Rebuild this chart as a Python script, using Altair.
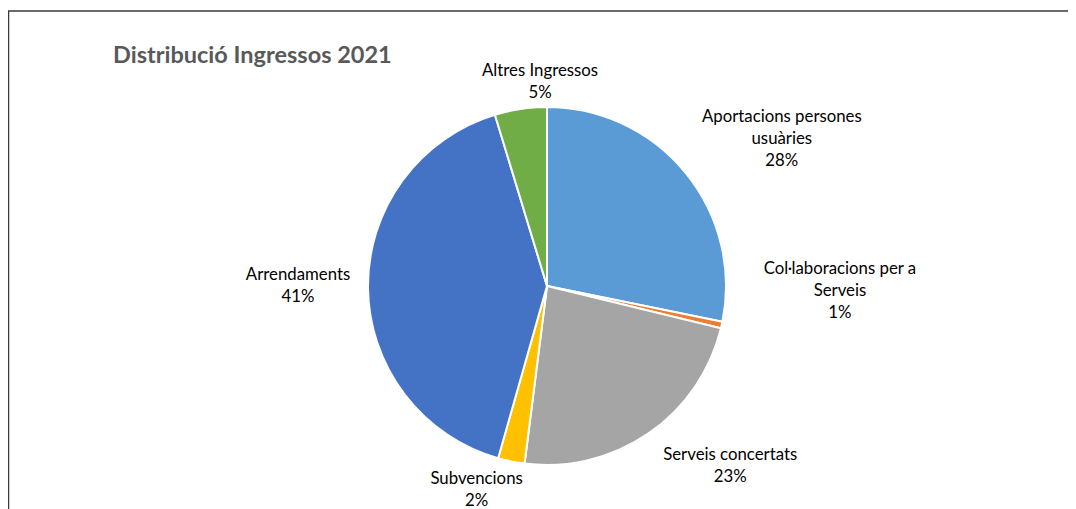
import altair as alt
import pandas as pd

# ---- data ----
categories = ["Aportacions persones usuàries", "Col·laboracions per a Serveis",
              "Serveis concertats", "Subvencions", "Arrendaments", "Altres Ingressos"]
values = [28.2, 0.6, 23.2, 2.4, 40.9, 4.7]
label_lines = ["Aportacions persones|usuàries", "Col·laboracions per a|Serveis",
               "Serveis concertats", "Subvencions", "Arrendaments", "Altres Ingressos"]
colors = ["#5B9BD5", "#ED7D31", "#A5A5A5", "#FFC000", "#4472C4", "#70AD47"]
title_text = "Distribució Ingressos 2021"

# ---- label layout (Excel best-fit nudges) ----
label_shift_deg = [7.2, -11.6, -10.9, 7.5, 0.5, 6.5]
label_radius = [277, 293, 257, 216, 249, 204]

CX, CY, R = 539, 278, 179
LH = 22

df = pd.DataFrame({
    "idx": list(range(len(categories))),
    "category": categories,
    "value": values,
    "label": label_lines,
    "shift": label_shift_deg,
    "lr": label_radius,
})

base = alt.Chart(df)

pie = base.mark_arc(outerRadius=R, stroke="white", strokeWidth=2).encode(
    theta=alt.Theta("value:Q", stack=True),
    order=alt.Order("idx:Q"),
    color=alt.Color("category:N", scale=alt.Scale(domain=categories, range=colors), legend=None),
    x=alt.value(CX),
    y=alt.value(CY),
)

labels = base.transform_joinaggregate(
    total="sum(value)"
).transform_window(
    cum="sum(value)", sort=[alt.SortField("idx")], frame=[None, 0]
).transform_calculate(
    txt="datum.label + '|' + format(datum.value/datum.total, '.0%')",
).transform_calculate(
    nl="length(split(datum.txt, '|'))",
    ang="(datum.cum - datum.value/2)/datum.total*2*PI + datum.shift*PI/180",
).transform_calculate(
    lx=f"{CX} + datum.lr*sin(datum.ang)",
    ly=f"{CY} - datum.lr*cos(datum.ang) - (datum.nl - 1)*{LH}/2",
).mark_text(
    font="Lato", fontSize=16.8, color="#000000", lineBreak="|", lineHeight=LH,
    align="center", baseline="middle",
).encode(
    x=alt.X("lx:Q", scale=None),
    y=alt.Y("ly:Q", scale=None),
    text="txt:N",
)

title = base.mark_text(
    font="Lato", fontSize=23.5, fontWeight="bold", color="#595959",
    align="left", baseline="alphabetic",
).encode(
    x=alt.value(105), y=alt.value(55), text=alt.value(title_text)
).transform_filter("datum.idx == 0")

frame_top = base.mark_rule(color="#3a3a3a", strokeWidth=1.5).encode(
    x=alt.value(0), x2=alt.value(1060), y=alt.value(3)
).transform_filter("datum.idx == 0")
frame_left = base.mark_rule(color="#3a3a3a", strokeWidth=1.5).encode(
    x=alt.value(0.5), y=alt.value(3), y2=alt.value(501)
).transform_filter("datum.idx == 0")

chart = alt.layer(frame_top, frame_left, pie, labels, title).properties(
    width=1060, height=501, autosize=alt.AutoSizeParams(type="none"),
    padding=0, background="white",
).configure_view(stroke=None)

chart.save("out.html", embed_options={"renderer": "svg", "actions": False})
